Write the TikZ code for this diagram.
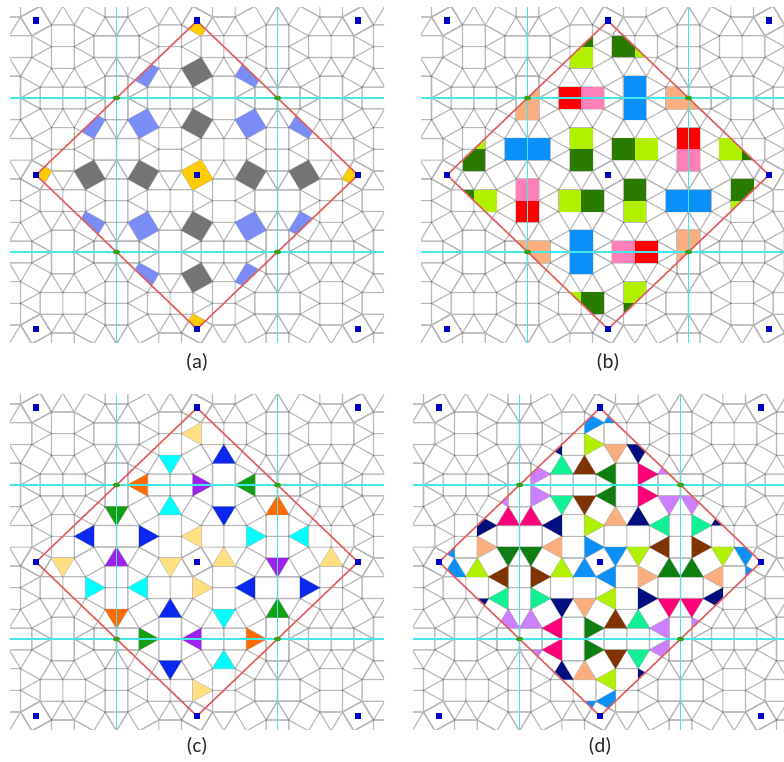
\documentclass[tikz,border=0pt]{standalone}
\usepackage{fontspec}
\setmainfont{Carlito}
\usepackage{xcolor}
\usepackage{tikz}
\definecolor{edgeGray}{HTML}{B9B9B9}
\definecolor{vertGray}{HTML}{6A6A6A}
\definecolor{lineCyan}{HTML}{45E6E6}
\definecolor{lineRed}{HTML}{E0605F}
\definecolor{markBlue}{HTML}{0000C4}
\definecolor{markGreen}{HTML}{3E9C1C}
\definecolor{tGray}{HTML}{747474}
\definecolor{tPeri}{HTML}{7B8CF6}
\definecolor{tGold}{HTML}{FFCC00}
\definecolor{tDark}{HTML}{2A7A00}
\definecolor{tLime}{HTML}{B0F000}
\definecolor{tRed}{HTML}{FF0000}
\definecolor{tPink}{HTML}{FF80B8}
\definecolor{tSky}{HTML}{0A90F8}
\definecolor{tPeach}{HTML}{F9AE80}
\definecolor{tPale}{HTML}{FFE080}
\definecolor{tCyan}{HTML}{00FFFF}
\definecolor{tBlue}{HTML}{0A28F0}
\definecolor{tViolet}{HTML}{A020F0}
\definecolor{tGreen}{HTML}{12A012}
\definecolor{tOrange}{HTML}{FF6A00}
\definecolor{tForest}{HTML}{0E7E10}
\definecolor{tNavy}{HTML}{000E80}
\definecolor{tRose}{HTML}{FF0078}
\definecolor{tOrchid}{HTML}{CC80FF}
\definecolor{tSpring}{HTML}{10F095}
\definecolor{tBrown}{HTML}{7F3300}
%% cell geometry, in tile edges
\def\per{7.098}
\def\hp{3.549}
\def\ax{22.68}
\def\ay{21.7}
%% squares
\def\sqS{(.183,.683)--(.683,-.183)--(-.183,-.683)--(-.683,.183)--cycle}
\def\sqB{(.183,.683)--(1.183,.683)--(1.183,1.683)--(.183,1.683)--cycle}
\def\sqD{(1.183,.683)--(2.183,.683)--(2.183,1.683)--(1.183,1.683)--cycle}
\def\sqG{(1.683,-.183)--(2.183,.683)--(3.049,.183)--(2.549,-.683)--cycle}
\def\sqJ{(2.183,1.683)--(3.049,2.183)--(2.549,3.049)--(1.683,2.549)--cycle}
\def\sqKa{(3.049,.183)--(4.049,.183)--(4.049,1.183)--(3.049,1.183)--cycle}
\def\sqKb{(3.049,1.183)--(4.049,1.183)--(4.049,2.183)--(3.049,2.183)--cycle}
\def\sqPa{(.683,2.549)--(1.683,2.549)--(1.683,3.549)--(.683,3.549)--cycle}
\def\sqPb{(.683,3.549)--(1.683,3.549)--(1.683,4.549)--(.683,4.549)--cycle}
\def\sqXa{(2.549,3.049)--(3.549,3.049)--(3.549,4.049)--(2.549,4.049)--cycle}
\def\sqXb{(3.549,3.049)--(4.549,3.049)--(4.549,4.049)--(3.549,4.049)--cycle}
%% triangles
\def\trA{(.183,.683)--(.683,-.183)--(1.183,.683)--cycle}
\def\trAb{(.683,-.183)--(1.183,.683)--(1.683,-.183)--cycle}
\def\trC{(1.183,.683)--(2.183,.683)--(1.683,-.183)--cycle}
\def\trE{(2.183,.683)--(3.049,.183)--(3.049,1.183)--cycle}
\def\trF{(2.183,.683)--(3.049,1.183)--(2.183,1.683)--cycle}
\def\trH{(2.183,1.683)--(3.049,1.183)--(3.049,2.183)--cycle}
\def\trL{(1.183,1.683)--(2.183,1.683)--(1.683,2.549)--cycle}
\def\trM{(.183,1.683)--(1.183,1.683)--(.683,2.549)--cycle}
\def\trN{(1.183,1.683)--(1.683,2.549)--(.683,2.549)--cycle}
\def\trQ{(1.683,2.549)--(2.549,3.049)--(1.683,3.549)--cycle}
\def\trU{(3.049,2.183)--(2.549,3.049)--(3.549,3.049)--cycle}
\def\trUb{(3.049,2.183)--(4.049,2.183)--(3.549,3.049)--cycle}
\def\trW{(1.683,3.549)--(2.549,3.049)--(2.549,4.049)--cycle}
\def\trV{(2.549,-.683)--(3.049,.183)--(3.549,-.683)--cycle}
\def\trVb{(3.049,.183)--(4.049,.183)--(3.549,-.683)--cycle}
%% vertices of the tiling, one quarter
\def\verts{(.183,.683) circle[radius=.035] (1.183,.683) circle[radius=.035]
  (1.683,-.183) circle[radius=.035] (2.183,.683) circle[radius=.035]
  (3.049,.183) circle[radius=.035] (2.549,-.683) circle[radius=.035]
  (3.049,1.183) circle[radius=.035] (2.183,1.683) circle[radius=.035]
  (1.183,1.683) circle[radius=.035] (4.049,.183) circle[radius=.035]
  (4.049,1.183) circle[radius=.035] (3.049,2.183) circle[radius=.035]
  (4.049,2.183) circle[radius=.035] (3.549,3.049) circle[radius=.035]
  (2.549,3.049) circle[radius=.035] (1.683,2.549) circle[radius=.035]
  (.683,2.549) circle[radius=.035] (.683,3.549) circle[radius=.035]
  (1.683,3.549) circle[radius=.035] (.683,4.549) circle[radius=.035]
  (1.683,4.549) circle[radius=.035] (2.549,4.049) circle[radius=.035]
  (3.549,4.049) circle[radius=.035] (4.549,3.049) circle[radius=.035]
  (4.549,4.049) circle[radius=.035]}
%% grey tiling under a panel, cut to the panel's frame
\newcommand{\tiling}{%
  \begin{scope}
    \clip (-8.245,-7.74) rectangle (8.245,7.74);
    \foreach \i in {-1,0,1}
      \foreach \j in {-1,0,1} {
        \pgfmathsetmacro{\m}{ifthenelse(mod(abs(\i+\j),2)==1,-1,1)}
        \foreach \r in {0,90,180,270} {
          \draw[tileedge,shift={(\i*\per,\j*\per)},xscale=\m,rotate=\r]
            \sqS \sqB \sqD \sqG \sqJ \sqKa \sqKb \sqPa \sqPb \sqXa \sqXb
            \trA \trAb \trC \trE \trF \trH \trL \trM \trN \trQ \trU \trUb \trW \trV \trVb;
          \fill[tilevert,shift={(\i*\per,\j*\per)},xscale=\m,rotate=\r] \verts;
        }
      }
  \end{scope}
}
%% one tile with its images, in the centre cell and its four mirrored neighbours
\newcommand{\orbit}[2]{%
  \foreach \i/\j/\m in {0/0/1,1/0/-1,-1/0/-1,0/1/-1,0/-1/-1}
    \foreach \r in {0,90,180,270}
      \fill[#2,shift={(\i*\per,\j*\per)},xscale=\m,rotate=\r] #1;
}
%% mirror lines, cell border and centre marks
\newcommand{\overlays}{%
  \foreach \s in {-1,1} {
    \draw[mirrorline] (\s*\hp,-7.74) -- (\s*\hp,7.74);
    \draw[mirrorline] (-8.245,\s*\hp) -- (8.245,\s*\hp);
  }
  \draw[cellline] (\per,0) -- (0,\per) -- (-\per,0) -- (0,-\per) -- cycle;
  \foreach \i in {-1,0,1}
    \foreach \j in {-1,0,1}
      \fill[markBlue,shift={(\i*\per,\j*\per)}] (-.15,-.16) rectangle (.15,.16);
  \foreach \s in {-1,1}
    \foreach \t in {-1,1}
      \fill[markGreen] (\s*\hp,\t*\hp) ellipse[x radius=.16,y radius=.11];
}
\newcommand{\cellclip}{\clip (\per,0) -- (0,\per) -- (-\per,0) -- (0,-\per) -- cycle;}

\begin{document}
\begin{tikzpicture}[
    x=.75pt,y=.75pt,
    tileedge/.style={draw=edgeGray,line width=.85pt},
    tilevert/.style={fill=vertGray},
    mirrorline/.style={draw=lineCyan,line width=1.4pt},
    cellline/.style={draw=lineRed,line width=1.2pt},
    panellabel/.style={font=\fontsize{15.5pt}{18pt}\selectfont,text=black!85}
  ]
  \clip (0,0) rectangle (784,762);
  %% Panel (a)
  \begin{scope}[shift={(197,587)},xscale=\ax,yscale=\ay]
    \tiling
    \begin{scope}
      \cellclip
      \orbit{\sqS}{tGold}
      \orbit{\sqG}{tGray}
      \orbit{\sqJ}{tPeri}
    \end{scope}
    \overlays
  \end{scope}
  %% Panel (b)
  \begin{scope}[shift={(608,587)},xscale=\ax,yscale=\ay]
    \tiling
    \begin{scope}
      \cellclip
      \orbit{\sqB}{tDark}
      \orbit{\sqD}{tLime}
      \orbit{\sqKa}{tPink}
      \orbit{\sqKb}{tRed}
      \orbit{\sqPa}{tSky}
      \orbit{\sqPb}{tSky}
      \orbit{\sqXa}{tPeach}
      \orbit{\sqXb}{tPeach}
    \end{scope}
    \overlays
  \end{scope}
  %% Panel (c)
  \begin{scope}[shift={(197,200)},xscale=\ax,yscale=\ay]
    \tiling
    \begin{scope}
      \cellclip
      \orbit{\trAb}{tPale}
      \orbit{\trF}{tCyan}
      \orbit{\trN}{tBlue}
      \orbit{\trVb}{tViolet}
      \orbit{\trW}{tGreen}
      \orbit{\trUb}{tOrange}
    \end{scope}
    \overlays
  \end{scope}
  %% Panel (d)
  \begin{scope}[shift={(600,200)},xscale=\ax,yscale=\ay]
    \tiling
    \begin{scope}
      \cellclip
      \orbit{\trA}{tSky}
      \orbit{\trC}{tLime}
      \orbit{\trM}{tPeach}
      \orbit{\trV}{tForest}
      \orbit{\trL}{tNavy}
      \orbit{\trQ}{tRose}
      \orbit{\trU}{tOrchid}
      \orbit{\trH}{tSpring}
      \orbit{\trE}{tBrown}
    \end{scope}
    \overlays
  \end{scope}
  %% Panel labels
  \node[panellabel] (labA) at (197,400) {(a)};
  \node[panellabel] (labB) at (608,400) {(b)};
  \node[panellabel] (labC) at (197,16) {(c)};
  \node[panellabel] (labD) at (600,16) {(d)};
\end{tikzpicture}
\end{document}
